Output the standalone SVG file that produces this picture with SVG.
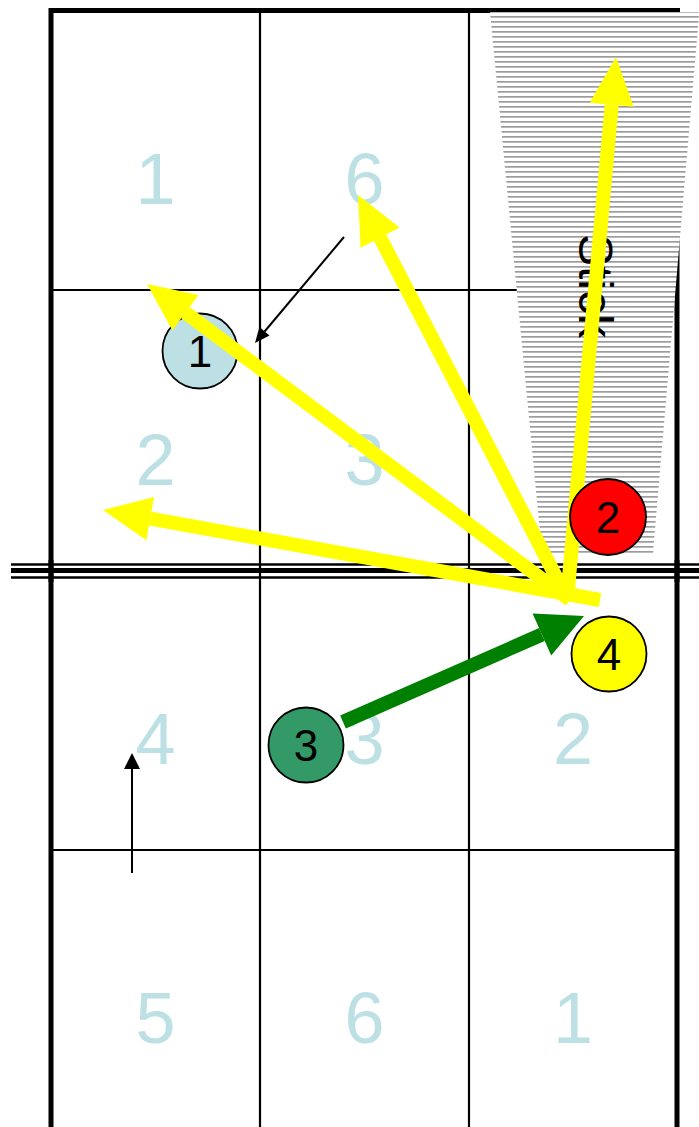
<svg xmlns="http://www.w3.org/2000/svg" width="699" height="1127" viewBox="0 0 699 1127">
<defs>
<pattern id="hatch" patternUnits="userSpaceOnUse" width="10" height="5">
<rect width="10" height="5" fill="#ffffff"/>
<rect y="1" width="10" height="1.7" fill="#9c9c9c"/>
</pattern>
<style>
.grid{stroke:#000;stroke-width:2.2;fill:none}
.border{stroke:#000;stroke-width:5;fill:none}
.zone{font-family:"Liberation Sans",Arial,sans-serif;font-size:72px;fill:#bce0e4;text-anchor:middle}
.lbl{font-family:"Liberation Sans",Arial,sans-serif;font-size:44px;fill:#000;text-anchor:middle}
.pl{stroke:#000;stroke-width:1.8}
.ys{stroke:#ffff00;stroke-width:14;fill:none}
.yh{fill:#ffff00}
.gs{stroke:#008000;stroke-width:14;fill:none}
.gh{fill:#008000}
.ts{stroke:#000;stroke-width:2;fill:none}
</style>
</defs>
<rect width="699" height="1127" fill="#ffffff"/>
<g id="field">
<line class="grid" x1="260" y1="10" x2="260" y2="1127"/>
<line class="grid" x1="469" y1="10" x2="469" y2="1127"/>
<line class="grid" x1="51" y1="290" x2="677" y2="290"/>
<line class="grid" x1="51" y1="850" x2="677" y2="850"/>
<line class="border" x1="51" y1="8" x2="51" y2="1127"/>
<line class="border" x1="49" y1="10.5" x2="680" y2="10.5"/>
<line class="border" x1="677" y1="10" x2="677" y2="1127"/>
</g>
<g id="zones">
<text class="zone" x="155.5" y="204">1</text>
<text class="zone" x="364.5" y="204">6</text>
<text class="zone" x="155.5" y="485">2</text>
<text class="zone" x="364.5" y="485">3</text>
<text class="zone" x="155.5" y="764">4</text>
<text class="zone" x="364.5" y="764">3</text>
<text class="zone" x="573" y="764">2</text>
<text class="zone" x="155.5" y="1043">5</text>
<text class="zone" x="364.5" y="1043">6</text>
<text class="zone" x="573" y="1043">1</text>
</g>
<g id="shotzone">
<polygon points="490,12 699,12 699,15 653,553 542,553" fill="url(#hatch)"/>
<text transform="translate(579,234) rotate(90)" font-family="Liberation Sans, Arial, sans-serif" font-size="48" fill="#000">Stick</text>
</g>
<g id="centerline">
<line x1="11" y1="564.5" x2="699" y2="564.5" stroke="#000" stroke-width="2.5"/>
<line x1="11" y1="570.5" x2="699" y2="570.5" stroke="#000" stroke-width="5"/>
<line x1="11" y1="577.5" x2="699" y2="577.5" stroke="#000" stroke-width="2.5"/>
<line x1="51" y1="560" x2="51" y2="582" stroke="#000" stroke-width="5"/>
<line x1="677" y1="560" x2="677" y2="582" stroke="#000" stroke-width="5"/>
</g>
<g id="player1">
<circle class="pl" cx="200" cy="351" r="37.5" fill="#bce0e4"/>
<text class="lbl" x="200" y="367">1</text>
</g>
<g id="player3">
<circle class="pl" cx="306" cy="745" r="37.5" fill="#339966"/>
<text class="lbl" x="306" y="761">3</text>
</g>
<g id="player4">
<circle class="pl" cx="609" cy="654" r="37.5" fill="#ffff00"/>
<text class="lbl" x="609" y="670">4</text>
</g>
<g id="connectors">
<line class="ys" x1="567" y1="600" x2="611.7" y2="104.8"/>
<polygon class="yh" points="616,57 633.6,106.8 589.8,102.8"/>
<line class="ys" x1="566" y1="596" x2="380.1" y2="237.6"/>
<polygon class="yh" points="358,195 399.6,227.5 360.6,247.7"/>
<line class="ys" x1="570" y1="600" x2="185.5" y2="312.7"/>
<polygon class="yh" points="147,284 198.7,295.1 172.3,330.3"/>
<line class="ys" x1="600" y1="600" x2="150.2" y2="518.6"/>
<polygon class="yh" points="103,510 154.1,497 146.3,540.2"/>
<line class="gs" x1="343" y1="722" x2="541.9" y2="634.5"/>
<polygon class="gh" points="584,616 551.2,655.6 532.6,613.4"/>
<line class="ts" x1="344" y1="237" x2="264.6" y2="331.5"/>
<polygon points="255,343 269.5,335.4 259.4,326.9" fill="#000"/>
<line class="ts" x1="132" y1="873" x2="132" y2="766"/>
<polygon points="132,753 124,769 140,769" fill="#000"/>
</g>
<g id="player2">
<circle class="pl" cx="608" cy="517" r="38" fill="#ff0000"/>
<text class="lbl" x="608" y="533">2</text>
</g>
</svg>
